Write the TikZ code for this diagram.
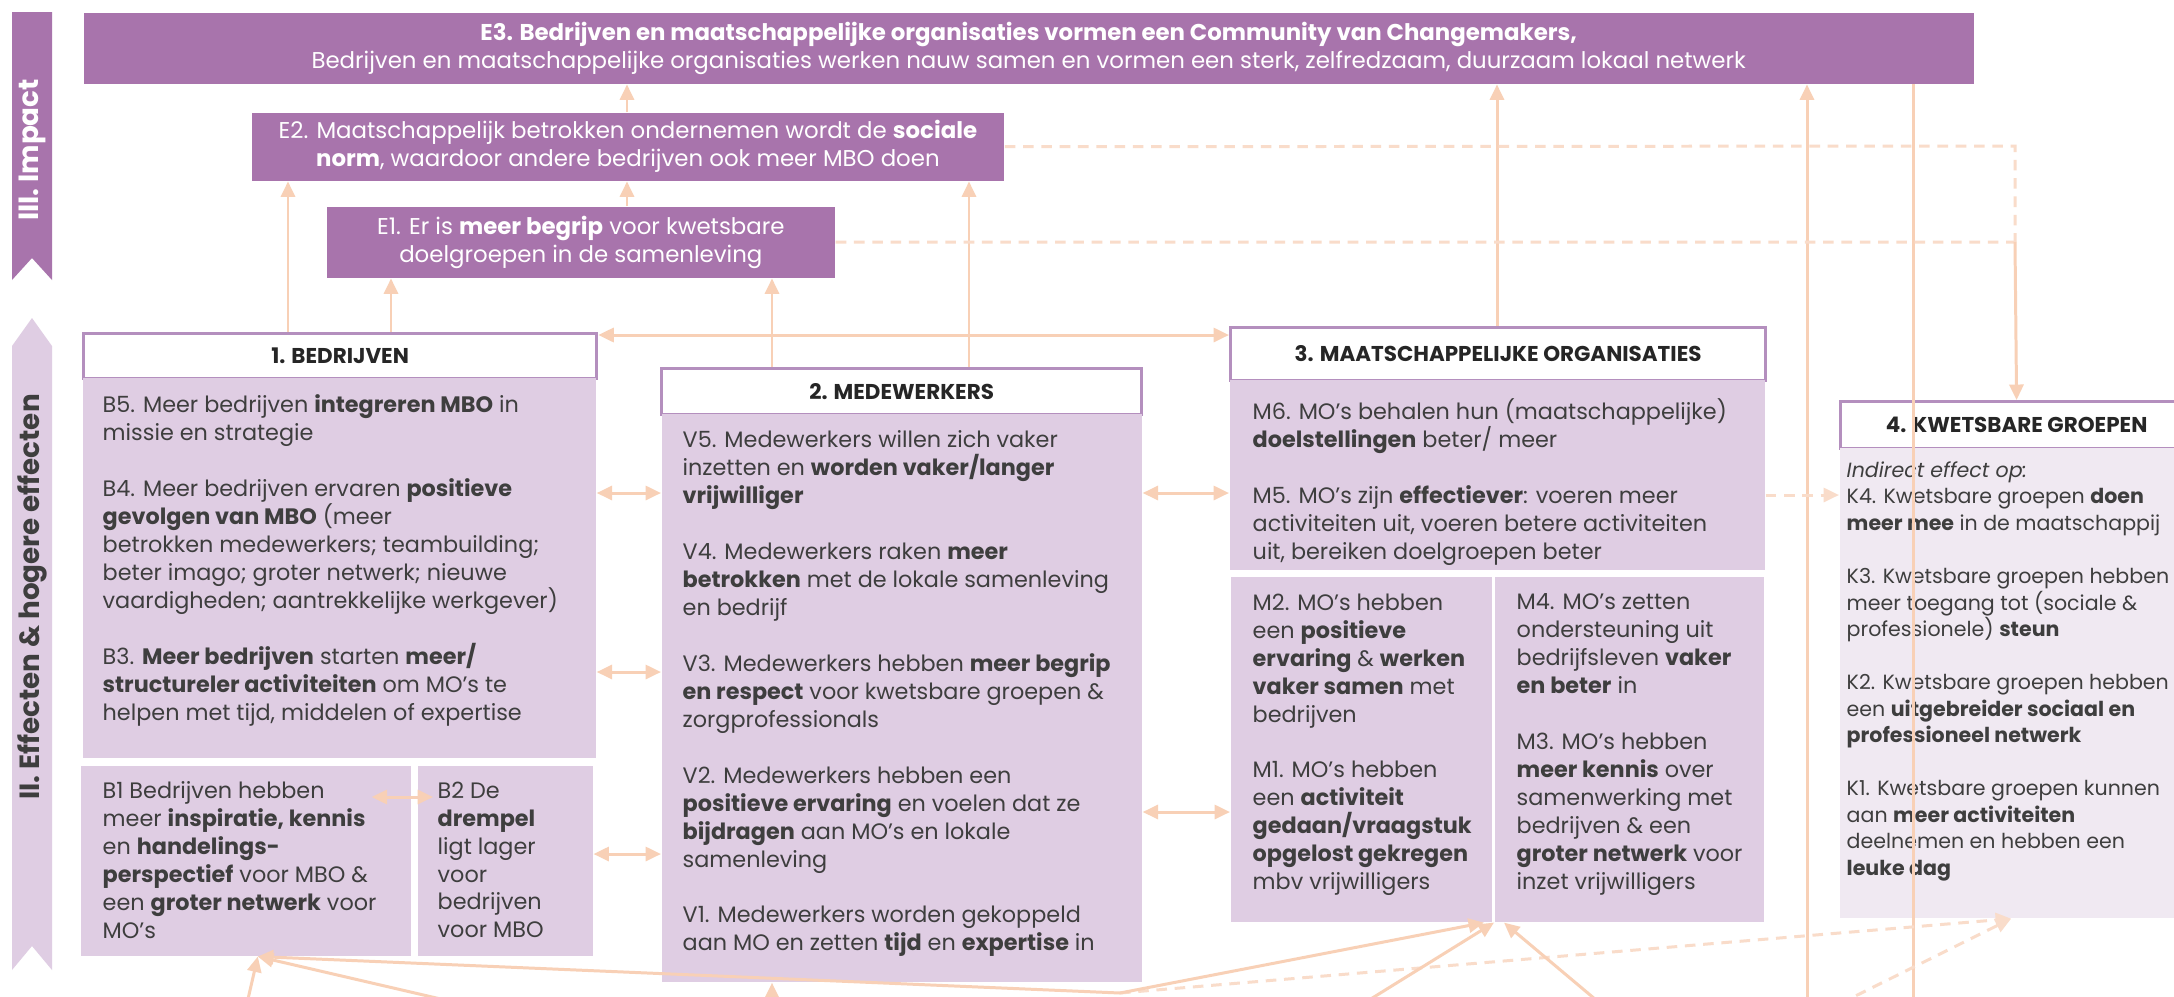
\documentclass[tikz,border=0pt]{standalone}
\usepackage{fontspec}
\setmainfont{Poppins}
\usetikzlibrary{arrows.meta}
\definecolor{impact}{RGB}{168,116,172}
\definecolor{lilac}{RGB}{223,205,227}
\definecolor{lilaclight}{RGB}{240,233,242}
\definecolor{rim}{RGB}{180,143,190}
\definecolor{peach}{RGB}{248,208,182}
\definecolor{peachlight}{RGB}{249,220,202}
\definecolor{ink}{RGB}{62,62,62}

\begin{document}
\begin{tikzpicture}[x=0.01cm, y=-0.01cm,
    every node/.style={inner sep=0pt, font=\fontsize{6.35pt}{7.95pt}\selectfont},
    bold/.style={font=\fontsize{6.1pt}{7.95pt}\selectfont\bfseries},
    bandlabel/.style={rotate=90, font=\fontsize{7.9pt}{10pt}\selectfont\bfseries},
    ebox/.style={fill=impact, anchor=north west, align=center, text=white, font=\fontsize{6.5pt}{7.95pt}\selectfont},
    cbox/.style={fill=lilac, anchor=north west},
    hbox/.style={draw=rim, fill=white, line width=0.85pt, anchor=north west, bold, text=black!85},
    txt/.style={anchor=north west, align=left, text=ink},
    arr/.style={draw=peach, line width=0.85pt, -{Triangle[length=4.4pt,width=4pt]}},
    darr/.style={draw=peach, line width=0.85pt, {Triangle[length=4.4pt,width=4pt]}-{Triangle[length=4.4pt,width=4pt]}},
    dline/.style={draw=peachlight, line width=0.85pt, dash pattern=on 3pt off 2.2pt},
    darrow/.style={dline, -{Triangle[length=4.4pt,width=4pt]}}]
  \useasboundingbox (0,0) rectangle (2174,996);
  \clip (0,0) rectangle (2174,996);
  \fill[white] (0,0) rectangle (2174,996);

  % side bands
  \fill[impact] (12,12) -- (52,12) -- (52,280) -- (32,258) -- (12,280) -- cycle;
  \fill[lilac] (12,346) -- (32,318) -- (52,346) -- (52,970) -- (32,946) -- (12,970) -- cycle;
  \node[bandlabel, text=white] (impactlabel) at (32,150) {III. Impact};
  \node[bandlabel, text=ink] (effectlabel) at (32,597) {II. Effecten \& hogere effecten};

  % impact
  \node[ebox, minimum width=18.89cm, minimum height=0.71cm] (e3) at (83,12)
    {\textbf{E3. Bedrijven en maatschappelijke organisaties vormen een Community van Changemakers,}\\
     Bedrijven en maatschappelijke organisaties werken nauw samen en vormen een sterk, zelfredzaam, duurzaam lokaal netwerk};
  \node[ebox, minimum width=7.52cm, minimum height=0.68cm] (e2) at (251,112)
    {E2. Maatschappelijk betrokken ondernemen wordt de \textbf{sociale}\\
     \textbf{norm}, waardoor andere bedrijven ook meer MBO doen};
  \node[ebox, minimum width=5.08cm, minimum height=0.71cm] (e1) at (326,206)
    {E1. Er is \textbf{meer begrip} voor kwetsbare\\ doelgroepen in de samenleving};

  % 1. bedrijven
  \node[hbox, minimum width=5.13cm, minimum height=0.45cm] (bhead) at (82,332) {1. BEDRIJVEN};
  \node[cbox, minimum width=5.13cm, minimum height=3.80cm] (bcont) at (82,377) {};
  \node[cbox, minimum width=3.30cm, minimum height=1.90cm] (b1) at (80,765) {};
  \node[cbox, minimum width=1.75cm, minimum height=1.90cm] (b2) at (417,765) {};
  \node[txt] (btxt) at (102,394) {B5. Meer bedrijven \textbf{integreren MBO} in\\
    missie en strategie\\[7.95pt]
    B4. Meer bedrijven ervaren \textbf{positieve}\\
    \textbf{gevolgen van MBO} (meer\\
    betrokken medewerkers; teambuilding;\\
    beter imago; groter netwerk; nieuwe\\
    vaardigheden; aantrekkelijke werkgever)\\[7.95pt]
    B3. \textbf{Meer bedrijven} starten \textbf{meer/}\\
    \textbf{structureler activiteiten} om MO’s te\\
    helpen met tijd, middelen of expertise};
  \node[txt] (b1txt) at (102,781) {B1 Bedrijven hebben\\
    meer \textbf{inspiratie, kennis}\\
    en \textbf{handelings-}\\
    \textbf{perspectief} voor MBO \&\\
    een \textbf{groter netwerk} voor\\
    MO’s};
  \node[txt] (b2txt) at (437,781) {B2 De\\ \textbf{drempel}\\ ligt lager\\ voor\\ bedrijven\\ voor MBO};

  % 2. medewerkers
  \node[hbox, minimum width=4.80cm, minimum height=0.46cm] (vhead) at (660,367) {2. MEDEWERKERS};
  \node[cbox, minimum width=4.80cm, minimum height=5.68cm] (vcont) at (661,413) {};
  \node[txt] (vtxt) at (682,430) {V5. Medewerkers willen zich vaker\\
    inzetten en \textbf{worden vaker/langer}\\
    \textbf{vrijwilliger}\\[7.95pt]
    V4. Medewerkers raken \textbf{meer}\\
    \textbf{betrokken} met de lokale samenleving\\
    en bedrijf\\[7.95pt]
    V3. Medewerkers hebben \textbf{meer begrip}\\
    \textbf{en respect} voor kwetsbare groepen \&\\
    zorgprofessionals\\[7.95pt]
    V2. Medewerkers hebben een\\
    \textbf{positieve ervaring} en voelen dat ze\\
    \textbf{bijdragen} aan MO’s en lokale\\
    samenleving\\[7.95pt]
    V1. Medewerkers worden gekoppeld\\
    aan MO en zetten \textbf{tijd} en \textbf{expertise} in};

  % 3. maatschappelijke organisaties
  \node[hbox, minimum width=5.35cm, minimum height=0.53cm] (mhead) at (1229,326) {3. MAATSCHAPPELIJKE ORGANISATIES};
  \node[cbox, minimum width=5.35cm, minimum height=1.90cm] (mtop) at (1229,379) {};
  \node[cbox, minimum width=2.61cm, minimum height=3.45cm] (m2) at (1230,576) {};
  \node[cbox, minimum width=2.69cm, minimum height=3.45cm] (m4) at (1494,576) {};
  \node[txt] (mtxt) at (1252,398) {M6. MO’s behalen hun (maatschappelijke)\\
    \textbf{doelstellingen} beter/ meer\\[7.95pt]
    M5. MO’s zijn \textbf{effectiever}: voeren meer\\
    activiteiten uit, voeren betere activiteiten\\
    uit, bereiken doelgroepen beter};
  \node[txt] (m2txt) at (1252,593) {M2. MO’s hebben\\
    een \textbf{positieve}\\
    \textbf{ervaring} \& \textbf{werken}\\
    \textbf{vaker samen} met\\
    bedrijven\\[7.95pt]
    M1. MO’s hebben\\
    een \textbf{activiteit}\\
    \textbf{gedaan/vraagstuk}\\
    \textbf{opgelost gekregen}\\
    mbv vrijwilligers};
  \node[txt] (m4txt) at (1516,593) {M4. MO’s zetten\\
    ondersteuning uit\\
    bedrijfsleven \textbf{vaker}\\
    \textbf{en beter} in\\[7.95pt]
    M3. MO’s hebben\\
    \textbf{meer kennis} over\\
    samenwerking met\\
    bedrijven \& een\\
    \textbf{groter netwerk} voor\\
    inzet vrijwilligers};

  % 4. kwetsbare groepen
  \node[hbox, minimum width=3.52cm, minimum height=0.47cm] (khead) at (1839,400) {4. KWETSBARE GROEPEN};
  \node[cbox, fill=lilaclight, minimum width=3.52cm, minimum height=4.70cm] (kcont) at (1839,447) {};
  \node[txt, font=\fontsize{5.85pt}{7.54pt}\selectfont] (ktxt) at (1846,461) {\textit{Indirect effect op:}\\
    K4. Kwetsbare groepen \textbf{doen}\\
    \textbf{meer mee} in de maatschappij\\[7.54pt]
    K3. Kwetsbare groepen hebben\\
    meer toegang tot (sociale \&\\
    professionele) \textbf{steun}\\[7.54pt]
    K2. Kwetsbare groepen hebben\\
    een \textbf{uitgebreider sociaal en}\\
    \textbf{professioneel netwerk}\\[7.54pt]
    K1. Kwetsbare groepen kunnen\\
    aan \textbf{meer activiteiten}\\
    deelnemen en hebben een\\
    \textbf{leuke dag}};

  % loose ends below the picture
  \coordinate (o1) at (245,1012);
  \coordinate (o2) at (600,1036);
  \coordinate (o3) at (1120,993);
  \coordinate (o4) at (1353,1010);
  \coordinate (o5) at (1608,1010);
  \coordinate (o6) at (1807,1020);
  \coordinate (o7) at (772,1010);
  \coordinate (o8) at (1913,1020);
  \coordinate (kn) at (2015,146);
  \coordinate (kt) at (2015,242);
  \coordinate (b1in) at ([xshift=0.12cm]b1.south);
  \coordinate (kin) at ([xshift=1.72cm]kcont.south west);

  % upward links
  \draw[arr] (e2.north -| 627,0) -- (e3.south -| 627,0);
  \draw[arr] (e1.north -| 627,0) -- (e2.south -| 627,0);
  \draw[arr] (bhead.north -| 288,0) -- (e2.south -| 288,0);
  \draw[arr] (bhead.north -| 391,0) -- (e1.south -| 391,0);
  \draw[arr] (vhead.north -| 772,0) -- (e1.south -| 772,0);
  \draw[arr] (vhead.north -| 969,0) -- (e2.south -| 969,0);
  \draw[arr] (mhead.north -| 1497,0) -- (e3.south -| 1497,0);
  \draw[arr] (o6) -- (e3.south -| o6);
  \draw[draw=peach, line width=0.85pt] (e3.south -| o8) -- (o8);

  % dashed links to kwetsbare groepen
  \draw[dline] (e2.east) -- (kn) -- (kt);
  \draw[dline] (e1.east) -- (kt);
  \draw[arr] (kt) -- (khead.north);
  \draw[darrow] (mtop.east |- 0,495) -- (kcont.west |- 0,495);
  \draw[darrow] (o3) -- (kin);
  \draw[darrow] (o6) -- (kin);

  % two-way links
  \draw[darr] (bhead.east |- 0,335) -- (mhead.west |- 0,335);
  \draw[darr] (bcont.east |- 0,493) -- (vcont.west |- 0,493);
  \draw[darr] (bcont.east |- 0,672) -- (vcont.west |- 0,672);
  \draw[darr] (b2.east |- 0,854) -- (vcont.west |- 0,854);
  \draw[darr] (vcont.east |- 0,493) -- (mtop.west |- 0,493);
  \draw[darr] (vcont.east |- 0,812) -- (m2.west |- 0,812);
  \draw[darr] ([xshift=-0.4cm]b1.east |- 0,797) -- ([xshift=0.16cm]b2.west |- 0,797);

  % links from below
  \draw[arr] (o1) -- (b1in);
  \draw[arr] (o2) -- (b1in);
  \draw[arr] (o3) -- (b1in);
  \draw[arr] (o7) -- (vcont.south -| o7);
  \draw[arr] (o3) -- ([xshift=-0.1cm]m4.south west);
  \draw[arr] (o4) -- (m4.south west);
  \draw[arr] (o5) -- ([xshift=0.1cm]m4.south west);
\end{tikzpicture}
\end{document}
